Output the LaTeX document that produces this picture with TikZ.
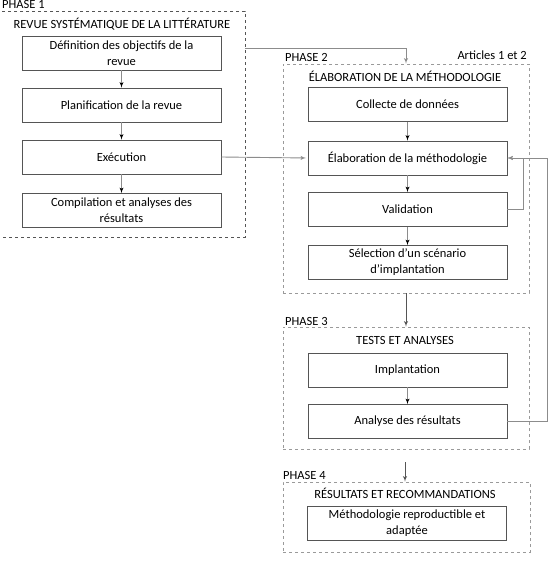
\documentclass[tikz,border=0pt]{standalone}
\usepackage{fontspec}
\setmainfont{Carlito}
\usepackage{tikz}
\usetikzlibrary{arrows}

\definecolor{boxgray}{HTML}{555555}
\definecolor{linegray}{HTML}{8C8C8C}
\definecolor{dashgray}{HTML}{9A9A9A}

\begin{document}
\begin{tikzpicture}[x=1pt,y=-1pt]
    \tikzset{stepbox/.style = {shape=rectangle,draw=boxgray,line width=0.8pt,minimum width=199pt,minimum height=34pt,align=center,inner sep=1pt,font=\fontsize{12.5}{16}\selectfont}}
    \tikzset{phasebox/.style = {shape=rectangle,draw=dashgray,dashed,line width=0.7pt,inner sep=0pt}}
    \tikzset{phaselabel/.style = {anchor=west,inner sep=0pt,font=\fontsize{12.5}{15}\selectfont}}
    \tikzset{edge/.style = {->,> = latex',draw=linegray,line width=0.9pt}}
    \useasboundingbox (0,0) rectangle (549,567);
    % phases
    \node[phasebox,draw=boxgray,minimum width=248pt,minimum height=226pt] (p1) at (121,124) {};
    \node[phasebox,minimum width=246pt,minimum height=229pt] (p2) at (406,178.5) {};
    \node[phasebox,minimum width=246pt,minimum height=122pt] (p3) at (406,388) {};
    \node[phasebox,minimum width=247pt,minimum height=70pt] (p4) at (406.5,517) {};
    \node[phaselabel] (l1) at (2,4) {PHASE 1};
    \node[phaselabel] (l2) at (285,57) {PHASE 2};
    \node[phaselabel] (l3) at (285,321) {PHASE 3};
    \node[phaselabel] (l4) at (283,475) {PHASE 4};
    \node[phaselabel,anchor=east] (art) at (527,55) {Articles 1 et 2};
    \node[phaselabel,anchor=center] (t1) at (122,24) {REVUE SYSTÉMATIQUE DE LA LITTÉRATURE};
    \node[phaselabel,anchor=center] (t2) at (405,76) {ÉLABORATION DE LA MÉTHODOLOGIE};
    \node[phaselabel,anchor=center] (t3) at (405,340) {TESTS ET ANALYSES};
    \node[phaselabel,anchor=center] (t4) at (405,493) {RÉSULTATS ET RECOMMANDATIONS};
%%%%%%%%%%%%%%%%%
    \node[stepbox] (b11) at (121.5,53) {Définition des objectifs de la\\revue};
    \node[stepbox] (b12) at (121.5,105) {Planification de la revue};
    \node[stepbox] (b13) at (121.5,157) {Exécution};
    \node[stepbox] (b14) at (121.5,210.5) {Compilation et analyses des\\résultats};
    \path[edge] (b11) edge (b12);
    \path[edge] (b12) edge (b13);
    \path[edge] (b13) edge (b14);
%%%%%%%%%%%%%%%%%
    \node[stepbox] (b21) at (407.5,104.5) {Collecte de données};
    \node[stepbox] (b22) at (407.5,158) {Élaboration de la méthodologie};
    \node[stepbox] (b23) at (407.5,209.5) {Validation};
    \node[stepbox] (b24) at (407.5,262.5) {Sélection d’un scénario\\d’implantation};
    \path[edge] (b21) edge (b22);
    \path[edge] (b22) edge (b23);
    \path[edge] (b23) edge (b24);
%%%%%%%%%%%%%%%%%
    \node[stepbox] (b31) at (407.5,370) {Implantation};
    \node[stepbox] (b32) at (407.5,421.5) {Analyse des résultats};
    \path[edge] (b31) edge (b32);
%%%%%%%%%%%%%%%%%
    \node[stepbox] (b41) at (407,523.5) {Méthodologie reproductible et\\adaptée};
%%%%%%%%%%%%%%%%%
    % links between phases
    \coordinate (c1) at (245,48);
    \coordinate (c2) at (523,0);
    \coordinate (c3) at (547,0);
    \coordinate (c4) at (405,462);
    \draw[edge] (c1) -| (p2.north);
    \draw[edge,shorten >=1.5pt] (b13.east) -- (b22.west);
    \draw[edge] (b23.east) -- (b23.east -| c2) -- (c2 |- b22.east) -- (b22.east);
    \draw[edge] (b32.east) -- (b32.east -| c3) -- (c3 |- b22.east) -- (b22.east);
    \draw[edge,draw=boxgray] (p2.south) -- (p3.north);
    \draw[edge,draw=boxgray] (c4) -- (c4 |- p4.north);
\end{tikzpicture}
\end{document}
